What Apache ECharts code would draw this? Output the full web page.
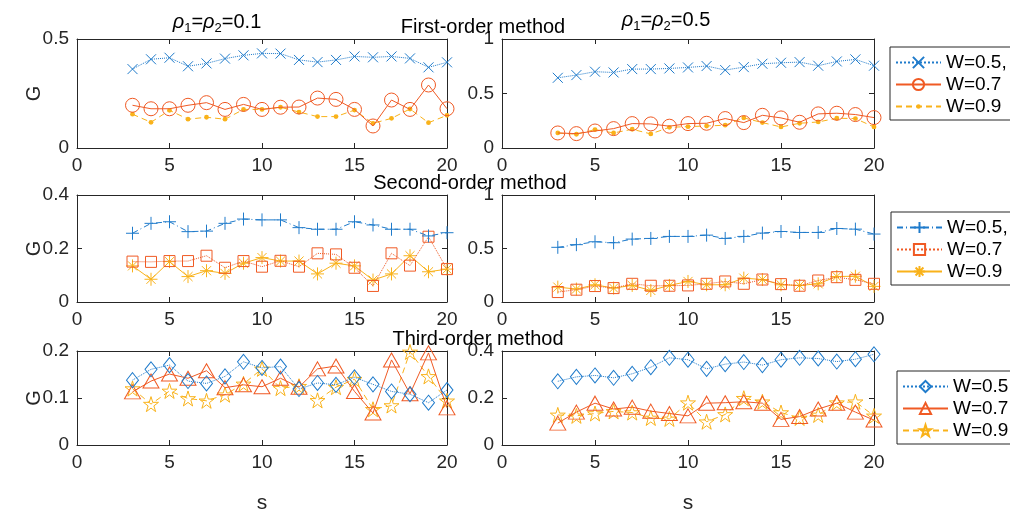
<!DOCTYPE html>
<html>
<head>
<meta charset="utf-8">
<script src="https://cdn.jsdelivr.net/npm/echarts@6/dist/echarts.min.js"></script>
<style>
  html, body { margin: 0; padding: 0; background: #fff; }
  #chart { width: 1010px; height: 515px; }
</style>
</head>
<body>
<div id="chart"></div>
<script>
// s values shared by every panel
const sValues = [3, 4, 5, 6, 7, 8, 9, 10, 11, 12, 13, 14, 15, 16, 17, 18, 19, 20];
const xTickLabels = [0, 5, 10, 15, 20];

// first-order method, rho = 0.1 / 0.5
const firstLowW05 = [0.362, 0.407, 0.414, 0.375, 0.388, 0.41, 0.425, 0.434, 0.433, 0.404, 0.394, 0.404, 0.42, 0.416, 0.42, 0.411, 0.37, 0.393];
const firstLowW07 = [0.196, 0.18, 0.18, 0.196, 0.208, 0.177, 0.2, 0.177, 0.187, 0.188, 0.229, 0.223, 0.177, 0.101, 0.22, 0.177, 0.289, 0.18];
const firstLowW09 = [0.155, 0.118, 0.173, 0.132, 0.141, 0.132, 0.177, 0.177, 0.187, 0.165, 0.144, 0.144, 0.174, 0.113, 0.136, 0.179, 0.116, 0.15];
const firstHighW05 = [0.644, 0.669, 0.7, 0.693, 0.724, 0.724, 0.73, 0.739, 0.752, 0.715, 0.742, 0.773, 0.782, 0.788, 0.755, 0.794, 0.813, 0.755];
const firstHighW07 = [0.138, 0.132, 0.156, 0.178, 0.224, 0.221, 0.2, 0.224, 0.227, 0.27, 0.233, 0.3, 0.276, 0.236, 0.313, 0.319, 0.307, 0.279];
const firstHighW09 = [0.138, 0.126, 0.169, 0.138, 0.172, 0.129, 0.19, 0.196, 0.202, 0.209, 0.276, 0.233, 0.193, 0.227, 0.239, 0.273, 0.27, 0.193];

// second-order method
const secondLowW05 = [0.257, 0.294, 0.3, 0.263, 0.265, 0.294, 0.31, 0.307, 0.307, 0.278, 0.272, 0.272, 0.3, 0.288, 0.272, 0.272, 0.247, 0.259];
const secondLowW07 = [0.151, 0.15, 0.153, 0.153, 0.173, 0.128, 0.153, 0.132, 0.154, 0.132, 0.182, 0.178, 0.128, 0.06, 0.182, 0.136, 0.244, 0.123];
const secondLowW09 = [0.135, 0.085, 0.151, 0.095, 0.117, 0.107, 0.145, 0.166, 0.153, 0.153, 0.105, 0.145, 0.135, 0.082, 0.105, 0.173, 0.113, 0.123];
const secondHighW05 = [0.511, 0.536, 0.563, 0.554, 0.588, 0.594, 0.613, 0.613, 0.625, 0.594, 0.613, 0.644, 0.659, 0.65, 0.65, 0.687, 0.681, 0.635];
const secondHighW07 = [0.093, 0.115, 0.149, 0.13, 0.17, 0.152, 0.152, 0.155, 0.17, 0.192, 0.17, 0.21, 0.167, 0.152, 0.201, 0.232, 0.207, 0.17];
const secondHighW09 = [0.139, 0.121, 0.161, 0.13, 0.155, 0.108, 0.155, 0.192, 0.161, 0.161, 0.223, 0.21, 0.161, 0.155, 0.17, 0.238, 0.241, 0.146];

// third-order method
const thirdLowW05 = [0.138, 0.161, 0.17, 0.136, 0.131, 0.146, 0.177, 0.164, 0.167, 0.119, 0.132, 0.128, 0.144, 0.129, 0.114, 0.108, 0.09, 0.117];
const thirdLowW07 = [0.113, 0.136, 0.151, 0.142, 0.158, 0.122, 0.128, 0.124, 0.142, 0.123, 0.162, 0.168, 0.114, 0.068, 0.181, 0.109, 0.196, 0.079];
const thirdLowW09 = [0.12, 0.087, 0.115, 0.099, 0.094, 0.107, 0.13, 0.162, 0.121, 0.125, 0.095, 0.123, 0.14, 0.076, 0.084, 0.198, 0.146, 0.094];
const thirdHighW05 = [0.271, 0.29, 0.296, 0.286, 0.303, 0.331, 0.371, 0.363, 0.324, 0.344, 0.353, 0.34, 0.363, 0.371, 0.368, 0.355, 0.365, 0.386];
const thirdHighW07 = [0.093, 0.14, 0.178, 0.153, 0.161, 0.144, 0.134, 0.124, 0.178, 0.18, 0.184, 0.178, 0.109, 0.121, 0.153, 0.178, 0.14, 0.106];
const thirdHighW09 = [0.128, 0.124, 0.134, 0.143, 0.138, 0.115, 0.111, 0.18, 0.099, 0.13, 0.199, 0.184, 0.138, 0.115, 0.128, 0.18, 0.184, 0.124];

const legendNames = [
  ['W=0.5,', 'W=0.7', 'W=0.9'],
  ['W=0.5,', 'W=0.7', 'W=0.9'],
  ['W=0.5', 'W=0.7', 'W=0.9']
];
const rowTitles = ['First-order method', 'Second-order method', 'Third-order method'];

const BLUE = '#1F7BCB';
const ORANGE = '#F05A24';
const YELLOW = '#F9B21A';
const AXIS = '#262626';
const FONT = '"Liberation Sans", Arial, sans-serif';

// marker shapes that ECharts doesn't ship
const CROSS = 'path://M0,0L10,10M10,0L0,10';
const PLUS = 'path://M5,0L5,10M0,5L10,5';
const ASTER = 'path://M5,0L5,10M0,5L10,5M1.5,1.5L8.5,8.5M8.5,1.5L1.5,8.5';
const STAR = 'path://M5,0L6.12,3.45L9.76,3.45L6.82,5.59L7.94,9.05L5,6.91L2.06,9.05L3.18,5.59L0.24,3.45L3.88,3.45Z';
// small dot inside an empty 12x12 box, so the legend icon stays small too
const DOT = 'path://M0,0M12,12M3.6,6A2.4,2.4,0,1,0,8.4,6A2.4,2.4,0,1,0,3.6,6Z';

// per row: line style + marker for W=0.5, 0.7, 0.9
const rowStyles = [
  [
    { color: BLUE, symbol: CROSS, size: 10, line: 'dotted', hollow: true },
    { color: ORANGE, symbol: 'circle', size: 14, line: 'solid', hollow: true },
    { color: YELLOW, symbol: DOT, size: 12, line: [6, 4], hollow: false }
  ],
  [
    { color: BLUE, symbol: PLUS, size: 13, line: [6, 3, 1, 3], hollow: true },
    { color: ORANGE, symbol: 'rect', size: 11, line: 'dotted', hollow: true },
    { color: YELLOW, symbol: ASTER, size: 13, line: 'solid', hollow: true }
  ],
  [
    { color: BLUE, symbol: 'diamond', size: [12, 15], line: 'dotted', hollow: true },
    { color: ORANGE, symbol: 'triangle', size: [16, 14], line: 'solid', hollow: true },
    { color: YELLOW, symbol: STAR, size: 15, line: [6, 4], hollow: true }
  ]
];

const panels = [
  { row: 0, col: 0, max: 0.5, step: 0.5, data: [firstLowW05, firstLowW07, firstLowW09] },
  { row: 0, col: 1, max: 1, step: 0.5, data: [firstHighW05, firstHighW07, firstHighW09] },
  { row: 1, col: 0, max: 0.4, step: 0.2, data: [secondLowW05, secondLowW07, secondLowW09] },
  { row: 1, col: 1, max: 1, step: 0.5, data: [secondHighW05, secondHighW07, secondHighW09] },
  { row: 2, col: 0, max: 0.2, step: 0.1, data: [thirdLowW05, thirdLowW07, thirdLowW09] },
  { row: 2, col: 1, max: 0.4, step: 0.2, data: [thirdHighW05, thirdHighW07, thirdHighW09] }
];

const colLeft = [77, 502];
const colWidth = [370, 372];
const rowTop = [39, 195, 351];
const rowHeight = [109, 107, 106];

const grids = [], xAxes = [], yAxes = [], series = [];

function baseAxis(extra) {
  return Object.assign({
    axisLine: { show: true, onZero: false, lineStyle: { color: AXIS, width: 1 } },
    axisTick: { show: true, inside: true, length: 5, lineStyle: { color: AXIS } },
    splitLine: { show: false },
    axisLabel: { color: AXIS, fontSize: 19, fontFamily: FONT, margin: 8 }
  }, extra);
}

panels.forEach((p, i) => {
  grids.push({ left: colLeft[p.col], top: rowTop[p.row], width: colWidth[p.col], height: rowHeight[p.row] });
  const bottomRow = p.row === 2;
  xAxes.push(baseAxis({
    type: 'value', gridIndex: i, min: xTickLabels[0], max: xTickLabels[xTickLabels.length - 1], interval: 5,
    position: 'bottom',
    name: bottomRow ? 's' : '', nameLocation: 'middle', nameGap: 48, nameMoveOverlap: false,
    nameTextStyle: { fontSize: 21, color: AXIS, fontFamily: FONT }
  }));
  xAxes.push(baseAxis({
    type: 'value', gridIndex: i, min: 0, max: 20, interval: 5, position: 'top',
    axisLabel: { show: false }
  }));
  yAxes.push(baseAxis({
    type: 'value', gridIndex: i, min: 0, max: p.max, interval: p.step, position: 'left',
    name: p.col === 0 ? 'G' : '', nameLocation: 'middle', nameGap: 33, nameRotate: 90, nameMoveOverlap: false,
    nameTextStyle: { fontSize: 20, color: AXIS, fontFamily: FONT }
  }));
  yAxes.push(baseAxis({
    type: 'value', gridIndex: i, min: 0, max: p.max, interval: p.step, position: 'right',
    axisLabel: { show: false }
  }));

  p.data.forEach((vals, k) => {
    const st = rowStyles[p.row][k];
    series.push({
      name: 'r' + p.row + '|' + legendNames[p.row][k],
      type: 'line',
      xAxisIndex: 2 * i,
      yAxisIndex: 2 * i,
      data: sValues.map((s, j) => [s, vals[j]]),
      symbol: st.symbol,
      symbolSize: st.size,
      showAllSymbol: true,
      lineStyle: { color: st.color, width: 1, type: st.line },
      itemStyle: st.hollow
        ? { color: 'rgba(255,255,255,0)', borderColor: st.color, borderWidth: 1 }
        : { color: st.color, borderWidth: 0 },
      emphasis: { disabled: true },
      z: 3 - k
    });
  });
});

const legendPos = [
  { left: 890, top: 47 },
  { left: 891, top: 212 },
  { left: 897, top: 371 }
];
const legends = legendPos.map((pos, r) => ({
  left: pos.left,
  top: pos.top,
  orient: 'vertical',
  data: legendNames[r].map(n => 'r' + r + '|' + n),
  formatter: name => name.split('|')[1],
  itemWidth: 45,
  itemHeight: 14,
  itemGap: 3,
  padding: [6, 40, 4, 5],
  borderColor: AXIS,
  borderWidth: 1,
  backgroundColor: '#fff',
  selectedMode: false,
  textStyle: { fontSize: 19, color: '#000', fontFamily: FONT }
}));

const rhoRich = {
  g: { fontSize: 20, fontStyle: 'italic', fontFamily: FONT, fill: '#000' },
  b: { fontSize: 13, fontFamily: FONT, padding: [12, 0, 0, 0], fill: '#000' },
  n: { fontSize: 20, fontFamily: FONT, fill: '#000' }
};
function rhoText(x, y, v) {
  return {
    type: 'text', x: x, y: y, z: 10,
    style: {
      text: '{g|ρ}{b|1}{n|=}{g|ρ}{b|2}{n|=' + v + '}',
      rich: rhoRich, align: 'center', verticalAlign: 'middle'
    }
  };
}
function plainText(x, y, t) {
  return {
    type: 'text', x: x, y: y, z: 10,
    style: { text: t, fontSize: 20, fontFamily: FONT, fill: '#000', align: 'center', verticalAlign: 'middle' }
  };
}

const chart = echarts.init(document.getElementById('chart'));
chart.setOption({
  animation: false,
  backgroundColor: '#fff',
  grid: grids,
  xAxis: xAxes,
  yAxis: yAxes,
  legend: legends,
  series: series,
  graphic: [
    rhoText(217, 22, '0.1'),
    rhoText(666, 20, '0.5'),
    plainText(483, 27, rowTitles[0]),
    plainText(470, 183, rowTitles[1]),
    plainText(478, 339, rowTitles[2])
  ]
});
</script>
</body>
</html>
